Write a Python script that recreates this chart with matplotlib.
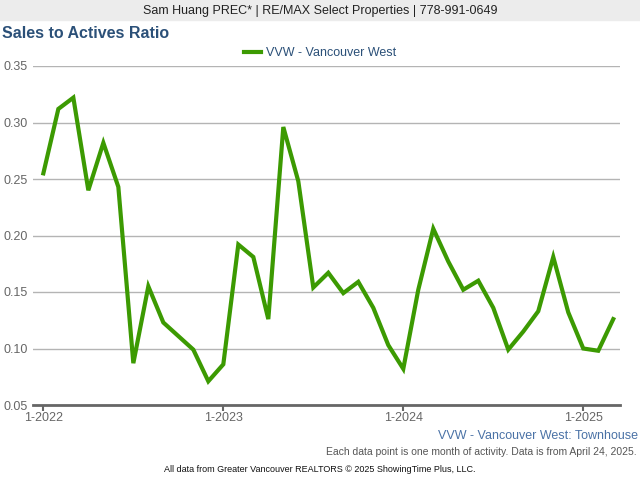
import matplotlib
matplotlib.use("Agg")
import matplotlib.pyplot as plt

plt.rcParams['font.family'] = ['Liberation Sans', 'DejaVu Sans']

# monthly data, Jan 2022 .. Mar 2025
months = [f"{m}-{y}" for y in (2022, 2023, 2024) for m in range(1, 13)] + ["1-2025", "2-2025", "3-2025"]
ratio = [0.255, 0.312, 0.322, 0.240, 0.282, 0.243, 0.087, 0.155, 0.123, 0.111, 0.099, 0.071,
         0.086, 0.192, 0.181, 0.126, 0.296, 0.248, 0.154, 0.167, 0.149, 0.159, 0.136, 0.103,
         0.082, 0.152, 0.206, 0.177, 0.152, 0.160, 0.136, 0.099, 0.115, 0.133, 0.181, 0.132,
         0.100, 0.098, 0.126]
tick_labels = ["1-2022", "1-2023", "1-2024", "1-2025"]
yticks = [0.05, 0.10, 0.15, 0.20, 0.25, 0.30, 0.35]

fig = plt.figure(figsize=(6.4, 4.8), dpi=100)

# top banner
fig.patches.append(plt.Rectangle((0, 1 - 20/480), 1, 20/480, transform=fig.transFigure,
                                 color='#ececec', zorder=0))
fig.text(0.5, 1 - 11/480, "Sam Huang PREC* | RE/MAX Select Properties | 778-991-0649",
         ha='center', va='center', fontsize=9, color='#222222')
fig.text(2/640, 1 - 34/480, "Sales to Actives Ratio", ha='left', va='center',
         fontsize=11.5, fontweight='bold', color='#2b5078')

ax = fig.add_axes([33/640, 1 - 405/480, (620 - 33)/640, (405 - 66)/480])
x = list(range(len(months)))
ax.plot(x, ratio, color='#3c9a02', linewidth=3, solid_joinstyle='miter',
        label="VVW - Vancouver West")

ax.set_ylim(0.05, 0.35)
ax.set_xlim(-0.69, 38.45)
ax.set_yticks(yticks)
ax.set_yticklabels([f"{v:.2f}" for v in yticks])
ax.set_xticks([months.index(t) for t in tick_labels])
ax.set_xticklabels(tick_labels)
ax.grid(axis='y', color='#b4b4b4', linewidth=1)
ax.set_axisbelow(True)
for s in ('top', 'right', 'left'):
    ax.spines[s].set_visible(False)
ax.spines['bottom'].set_color('#666666')
ax.spines['bottom'].set_linewidth(2)
ax.tick_params(axis='y', length=0, labelsize=9, labelcolor='#666666', pad=4)
ax.tick_params(axis='x', length=4, width=1.5, color='#666666', labelsize=9,
               labelcolor='#666666', pad=1)
for lbl in ax.get_yticklabels():
    lbl.set_horizontalalignment('right')

leg = fig.legend(loc='center', bbox_to_anchor=(0.5, 1 - 53/480), frameon=False,
                 fontsize=9, handlelength=1.4, handletextpad=0.4)
for t in leg.get_texts():
    t.set_color('#2b5078')

fig.text(638/640, 1 - 436/480, "VVW - Vancouver West: Townhouse", ha='right', va='center',
         fontsize=9, color='#4a72a6')
fig.text(637/640, 1 - 452/480,
         "Each data point is one month of activity. Data is from April 24, 2025.",
         ha='right', va='center', fontsize=7.5, color='#555555')
fig.text(0.5, 1 - 469/480,
         "All data from Greater Vancouver REALTORS \u00a9 2025 ShowingTime Plus, LLC.",
         ha='center', va='center', fontsize=6.5, color='#111111')

fig.savefig("out.png", dpi=100)
